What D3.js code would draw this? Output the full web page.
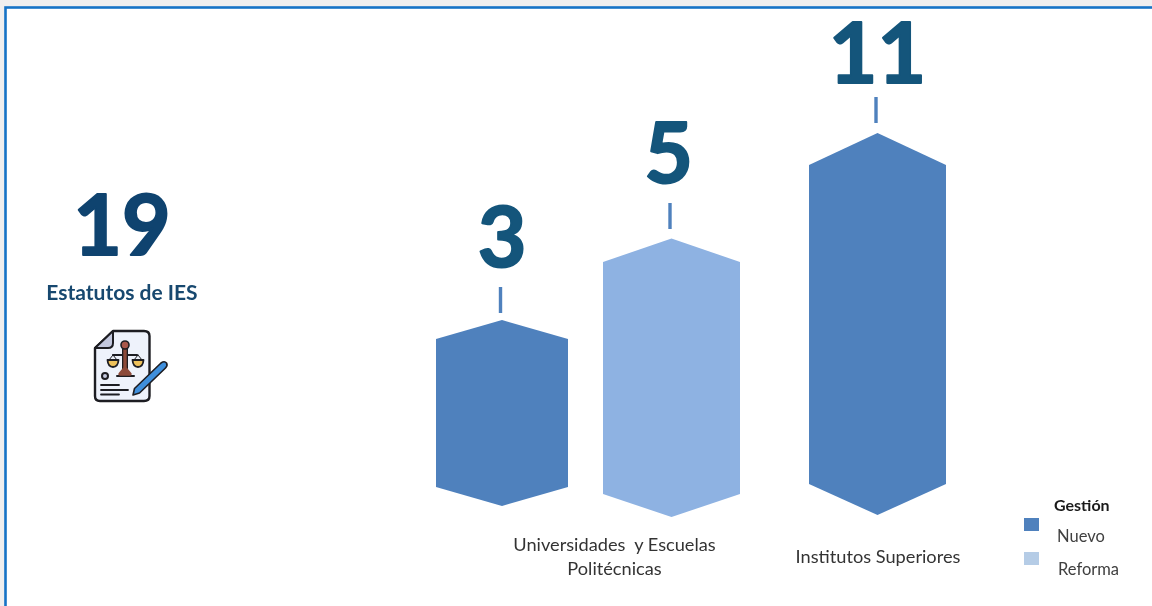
<!DOCTYPE html>
<html>
<head>
<meta charset="utf-8">
<title>Estatutos de IES</title>
<script src="https://cdn.jsdelivr.net/npm/d3@7"></script>
<style>
  html, body { margin: 0; padding: 0; background: #fff; overflow: hidden; }
  svg { display: block; filter: blur(0.45px); }
</style>
</head>
<body>
<svg id="chart" width="1152" height="606"></svg>
<script>
  var total = 19;
  var totalLabel = 'Estatutos de IES';
  var barValues = [3, 5, 11];
  var barGestion = ['Nuevo', 'Reforma', 'Nuevo'];
  var categoryLines = [['Universidades  y Escuelas', 'Politécnicas'], ['Institutos Superiores']];
  var legendTitle = 'Gestión';
  var legendItems = ['Nuevo', 'Reforma'];

  var svg = d3.select('#chart');
  var lato = 'Lato, sans-serif';

  // the bars are pictograms, the heights do not follow the values linearly
  var xScale = d3.scaleOrdinal().domain(barValues).range([502, 671.5, 877.5]);
  var halfWidth = d3.scaleOrdinal().domain(barValues).range([66, 68.5, 68.5]);
  var yTop = d3.scaleLinear().domain([3, 5, 11]).range([320, 238.5, 133]);
  var topPeak = d3.scaleOrdinal().domain(barValues).range([19, 23.5, 32]);
  var yBottom = d3.scaleOrdinal().domain(barValues).range([506, 517, 515]);
  var bottomPeak = d3.scaleOrdinal().domain(barValues).range([19, 23, 31]);
  var tickGap = d3.scaleOrdinal().domain(barValues).range([33, 35.5, 36]);
  var valueGap = d3.scaleOrdinal().domain(barValues).range([53, 55.5, 50]);
  var valueShift = d3.scaleOrdinal().domain(barValues).range([0, -3, 0]);
  var color = d3.scaleOrdinal().domain(legendItems).range(['#4f81bd', '#8eb2e2']);
  var swatch = d3.scaleOrdinal().domain(legendItems).range(['#4f81bd', '#b5cce6']);

  var lineFn = d3.line();

  function hexagon(v) {
    var c = xScale(v), w = halfWidth(v), t = yTop(v), b = yBottom(v);
    return lineFn([
      [c, t], [c + w, t + topPeak(v)], [c + w, b - bottomPeak(v)],
      [c, b], [c - w, b - bottomPeak(v)], [c - w, t + topPeak(v)]
    ]) + 'Z';
  }

  // page background and blue frame
  svg.append('rect').attr('width', 1152).attr('height', 606).attr('fill', '#efefef');
  svg.append('rect')
    .attr('x', 5.5).attr('y', 7.5).attr('width', 1160).attr('height', 620)
    .attr('fill', '#fff').attr('stroke', '#1673c6').attr('stroke-width', 2.6);

  // bars
  svg.selectAll('path.bar').data(barValues).enter().append('path')
    .attr('class', 'bar')
    .attr('d', hexagon)
    .attr('fill', function(d, i) { return color(barGestion[i]); });

  svg.selectAll('line.tick').data(barValues).enter().append('line')
    .attr('class', 'tick')
    .attr('x1', function(d) { return xScale(d) - 1.5; })
    .attr('x2', function(d) { return xScale(d) - 1.5; })
    .attr('y1', function(d) { return yTop(d) - tickGap(d); })
    .attr('y2', function(d) { return yTop(d) - tickGap(d) + 26; })
    .attr('stroke', '#4f81bd').attr('stroke-width', 3.4);

  svg.selectAll('text.value').data(barValues).enter().append('text')
    .attr('class', 'value')
    .attr('x', function(d) { return xScale(d) + valueShift(d); })
    .attr('y', function(d) { return yTop(d) - valueGap(d); })
    .attr('text-anchor', 'middle')
    .attr('font-family', lato).attr('font-weight', 700).attr('font-size', 84)
    .attr('fill', '#14557b').attr('stroke', '#14557b').attr('stroke-width', 2)
    .attr('stroke-linejoin', 'round')
    .text(function(d) { return d; });

  // category labels
  var categoryX = [614.5, 878];
  var categoryY = [551, 563];
  categoryLines.forEach(function(lines, i) {
    lines.forEach(function(line, j) {
      svg.append('text')
        .attr('x', categoryX[i]).attr('y', categoryY[i] + j * 24)
        .attr('text-anchor', 'middle')
        .attr('font-family', lato).attr('font-size', 18.2)
        .style('white-space', 'pre')
        .attr('fill', '#333')
        .text(line);
    });
  });

  // total on the left
  svg.append('text')
    .attr('x', 122).attr('y', 255)
    .attr('text-anchor', 'middle')
    .attr('font-family', lato).attr('font-weight', 700).attr('font-size', 84)
    .attr('fill', '#0f436f').attr('stroke', '#0f436f').attr('stroke-width', 2)
    .attr('stroke-linejoin', 'round')
    .text(total);

  svg.append('text')
    .attr('x', 122).attr('y', 300)
    .attr('text-anchor', 'middle')
    .attr('font-family', lato).attr('font-weight', 700).attr('font-size', 21)
    .attr('fill', '#17486f')
    .text(totalLabel);

  // document icon
  var icon = svg.append('g').attr('stroke-linejoin', 'round').attr('stroke-linecap', 'round');
  icon.append('path')
    .attr('d', 'M113 331H144Q149.500 331 149.500 336V396Q149.500 401 144 401H100Q95 401 95 396V348Z')
    .attr('fill', '#eef2fb').attr('stroke', '#1d1d22').attr('stroke-width', 2.4);
  icon.append('path')
    .attr('d', 'M113 331V343Q113 348 108 348H95Z')
    .attr('fill', '#c3c8de').attr('stroke', '#1d1d22').attr('stroke-width', 2);
  icon.append('path')
    .attr('d', 'M113 355H137M117 376H134')
    .attr('stroke', '#1d1d22').attr('stroke-width', 2).attr('fill', 'none');
  icon.append('path')
    .attr('d', 'M125 347V372')
    .attr('stroke', '#1d1d22').attr('stroke-width', 6);
  icon.append('path')
    .attr('d', 'M125 347L125 368L120 374H130L125 368Z')
    .attr('stroke', '#8c4a3a').attr('stroke-width', 3.4).attr('fill', '#8c4a3a');
  icon.append('circle')
    .attr('cx', 125).attr('cy', 345).attr('r', 4)
    .attr('fill', '#a9574a').attr('stroke', '#1d1d22').attr('stroke-width', 1.6);
  icon.append('path')
    .attr('d', 'M107.500 360H118.500Q118 367 113 367Q108 367 107.500 360ZM132.500 360H143.500Q143 367 138 367Q133 367 132.500 360Z')
    .attr('fill', '#eec15b').attr('stroke', '#1d1d22').attr('stroke-width', 1.8);
  icon.append('path')
    .attr('d', 'M113 355L109 360M113 355L117 360M138 355L134 360M138 355L142 360')
    .attr('stroke', '#1d1d22').attr('stroke-width', 1).attr('fill', 'none');
  icon.append('circle')
    .attr('cx', 105).attr('cy', 376).attr('r', 3)
    .attr('fill', '#c3c8de').attr('stroke', '#1d1d22').attr('stroke-width', 2);
  icon.append('path')
    .attr('d', 'M101 385H119M101 390H128M101 394.500H119')
    .attr('stroke', '#1d1d22').attr('stroke-width', 1.8).attr('fill', 'none');
  icon.append('path')
    .attr('d', 'M133 395L134.500 388.500L161 363Q164.500 360.500 166.500 363Q168 365.500 165.500 368L139.500 393Z')
    .attr('fill', '#3f8fdc').attr('stroke', '#1d1d22').attr('stroke-width', 1.6);

  // legend
  svg.append('text')
    .attr('x', 1054).attr('y', 511)
    .attr('font-family', lato).attr('font-weight', 700).attr('font-size', 16)
    .attr('fill', '#1a1a1a')
    .text(legendTitle);

  var legendSwatchY = d3.scaleOrdinal().domain(legendItems).range([518, 552]);
  var legendTextX = d3.scaleOrdinal().domain(legendItems).range([1057, 1058]);
  var legendTextY = d3.scaleOrdinal().domain(legendItems).range([542, 575]);

  svg.selectAll('rect.swatch').data(legendItems).enter().append('rect')
    .attr('class', 'swatch')
    .attr('x', 1024).attr('y', function(d) { return legendSwatchY(d); })
    .attr('width', 15).attr('height', 13)
    .attr('fill', function(d) { return swatch(d); });

  svg.selectAll('text.legend').data(legendItems).enter().append('text')
    .attr('class', 'legend')
    .attr('x', function(d) { return legendTextX(d); })
    .attr('y', function(d) { return legendTextY(d); })
    .attr('font-family', lato).attr('font-size', 16.5)
    .attr('fill', '#404040')
    .text(function(d) { return d; });
</script>
</body>
</html>
